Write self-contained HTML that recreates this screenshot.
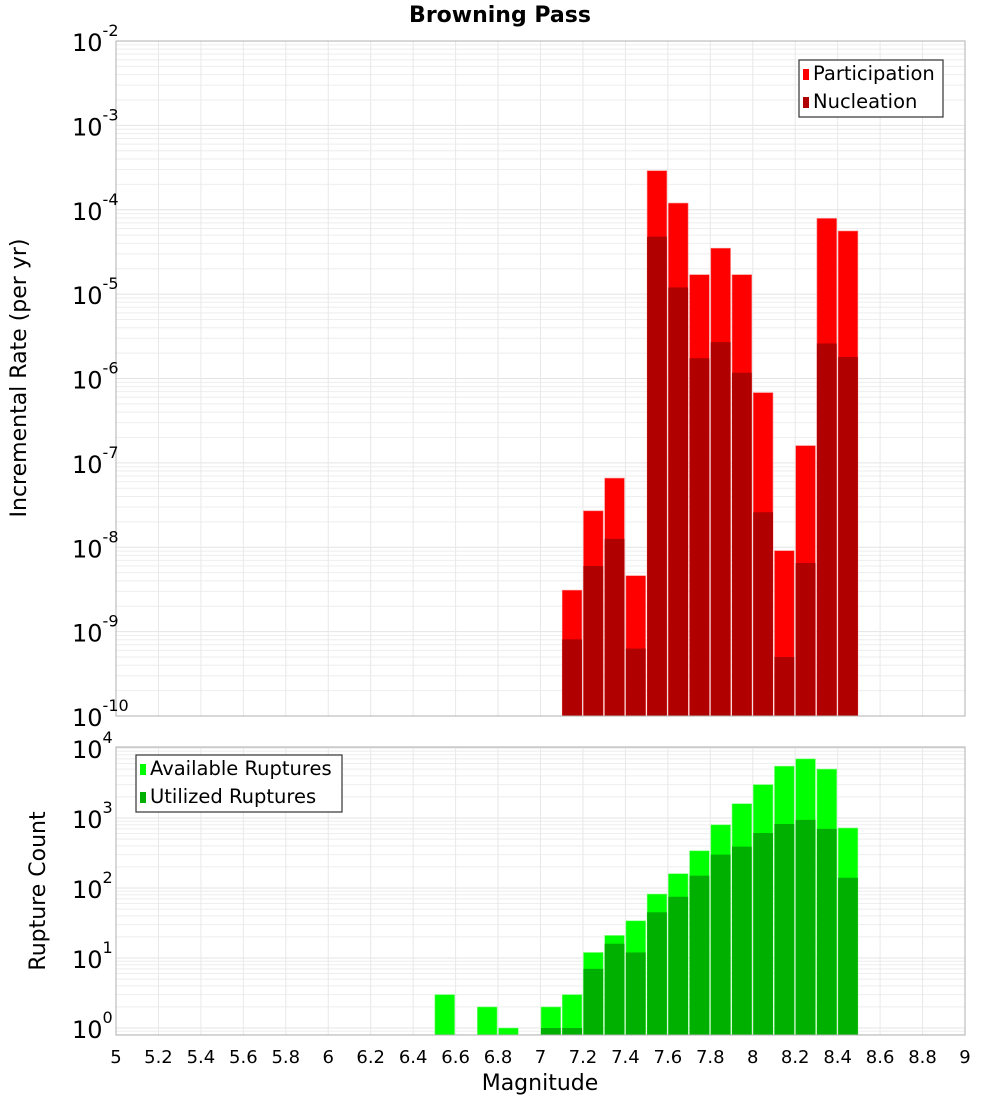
<!DOCTYPE html>
<html><head><meta charset="utf-8"><style>
body{margin:0;background:#fff;}
svg{display:block;font-family:"DejaVu Sans","Liberation Sans",sans-serif;}
</style></head><body>
<svg id="chart" width="1000" height="1100"></svg>
<script>
const mags = [7.1,7.2,7.3,7.4,7.5,7.6,7.7,7.8,7.9,8.0,8.1,8.2,8.3,8.4];
const participation = [3.1e-9,2.7e-8,6.6e-8,4.6e-9,2.9e-4,1.2e-4,1.7e-5,3.5e-5,1.7e-5,6.8e-7,9.1e-9,1.6e-7,7.9e-5,5.6e-5];
const nucleation = [8.1e-10,6e-9,1.26e-8,6.3e-10,4.8e-5,1.2e-5,1.74e-6,2.7e-6,1.17e-6,2.6e-8,5e-10,6.5e-9,2.6e-6,1.8e-6];
const countMags = [6.5,6.7,6.8,7.0,7.1,7.2,7.3,7.4,7.5,7.6,7.7,7.8,7.9,8.0,8.1,8.2,8.3,8.4];
const available = [3,2,1,2,3,12,21,34,82,160,340,800,1600,3000,5500,7000,5000,720];
const utilized = [0,0,0,1,1,7,16,12,45,75,150,300,390,610,820,940,700,140];
const xTicks = ["5","5.2","5.4","5.6","5.8","6","6.2","6.4","6.6","6.8","7","7.2","7.4","7.6","7.8","8","8.2","8.4","8.6","8.8","9"];
const topExps = [-2,-3,-4,-5,-6,-7,-8,-9,-10];
const botExps = [0,1,2,3,4];

const NS="http://www.w3.org/2000/svg";
const svg=document.getElementById('chart');
function el(t,a,p){const e=document.createElementNS(NS,t);for(const k in a)e.setAttribute(k,a[k]);(p||svg).appendChild(e);return e;}
const L=116,R=965;
const X=m=>L+(m-5)/4*(R-L);
const T1=41,B1=716;
const Y1=v=>T1+(-2-Math.log10(v))/8*(B1-T1);
const T2=747,B2=1035;
const Y2=v=>1028-Math.log10(v)*70;

function grid(top,bot,yf,lo,hi,name){
  const g=el('g',{});
  
  
  for(let e=lo;e<=hi;e++){for(let k=1;k<10;k++){const y=yf(k*Math.pow(10,e));if(y<top||y>bot)continue;
    el('line',{x1:L,x2:R,y1:y,y2:y,stroke:k==1?'#e4e4e4':'#eeeeee','stroke-width':1},g);}}
  for(let i=1;i<20;i++){const x=X(5+i*0.2);el('line',{x1:x,x2:x,y1:top,y2:bot,stroke:'#e8e8e8','stroke-width':1},g);}
}
grid(T1,B1,Y1,-10,-3,'top-grid');
grid(T2,B2,Y2,-1,4,'bottom-grid');

const bw=X(5.1)-X(5);
mags.forEach((m,i)=>{
  const r=el('rect',{x:X(m)+0.5,y:Y1(participation[i]),width:bw-1.5,height:B1-Y1(participation[i]),fill:'#ff0000',stroke:'#ff8080','stroke-width':0.6});
  
  
});
mags.forEach((m,i)=>{
  const r=el('rect',{x:X(m)+0.5,y:Y1(nucleation[i]),width:bw-1.5,height:B1-Y1(nucleation[i]),fill:'#b00000'});
  
  
});
countMags.forEach((m,i)=>{
  const r=el('rect',{x:X(m)+0.5,y:Y2(available[i]),width:bw-1.5,height:B2-Y2(available[i]),fill:'#00ff00',stroke:'#80ff80','stroke-width':0.6});
  
  
});
countMags.forEach((m,i)=>{
  if(utilized[i]<=0)return;
  const y=Math.min(Y2(utilized[i]),B2);
  const r=el('rect',{x:X(m)+0.5,y:y,width:bw-1.5,height:B2-y,fill:'#00b000'});
  
  
});

el('rect',{x:L,y:T1,width:R-L,height:B1-T1,fill:'none',stroke:'#b0b0b0','stroke-width':1});
el('rect',{x:L,y:T2,width:R-L,height:B2-T2,fill:'none',stroke:'#b0b0b0','stroke-width':1});

function powLabel(y,exp,name){
  const t=el('text',{x:72,y:y+10,'font-size':24,fill:'#000'});
  
  
  t.textContent='10';
  const s=el('tspan',{dy:-15,'font-size':16},t);s.textContent=String(exp);
}
topExps.forEach(e=>powLabel(Y1(Math.pow(10,e)),e,'y-tick-top'));
botExps.forEach(e=>powLabel(Y2(Math.pow(10,e)),e,'y-tick-bottom'));
xTicks.forEach(s=>{
  const t=el('text',{x:X(parseFloat(s)),y:1063,'font-size':18,'text-anchor':'middle',fill:'#000'});
  
  
  t.textContent=s;
});

let t=el('text',{x:500,y:22,'font-size':22,'font-weight':'bold','text-anchor':'middle'});
t.textContent='Browning Pass';
t=el('text',{x:540,y:1090,'font-size':22,'text-anchor':'middle'});
t.textContent='Magnitude';
t=el('text',{x:26,y:378,'font-size':22,'text-anchor':'middle',transform:'rotate(-90 26 378)'});
t.textContent='Incremental Rate (per yr)';
t=el('text',{x:45,y:891,'font-size':22,'text-anchor':'middle',transform:'rotate(-90 45 891)'});
t.textContent='Rupture Count';

function legend(x,y,w,items,name){
  const g=el('g',{});
  
  el('rect',{x:x,y:y,width:w,height:57,fill:'#fff',stroke:'#333','stroke-width':1.2},g);
  items.forEach((it,i)=>{
    el('rect',{x:x+4,y:y+9+i*28,width:6,height:11,fill:it[1]},g);
    const tt=el('text',{x:x+14,y:y+20+i*28,'font-size':19.5},g);tt.textContent=it[0];
  });
}
legend(799,60,144,[['Participation','#ff0000'],['Nucleation','#b00000']],'legend-top');
legend(136,755,206,[['Available Ruptures','#00ff00'],['Utilized Ruptures','#00b000']],'legend-bottom');
</script>
</body></html>
